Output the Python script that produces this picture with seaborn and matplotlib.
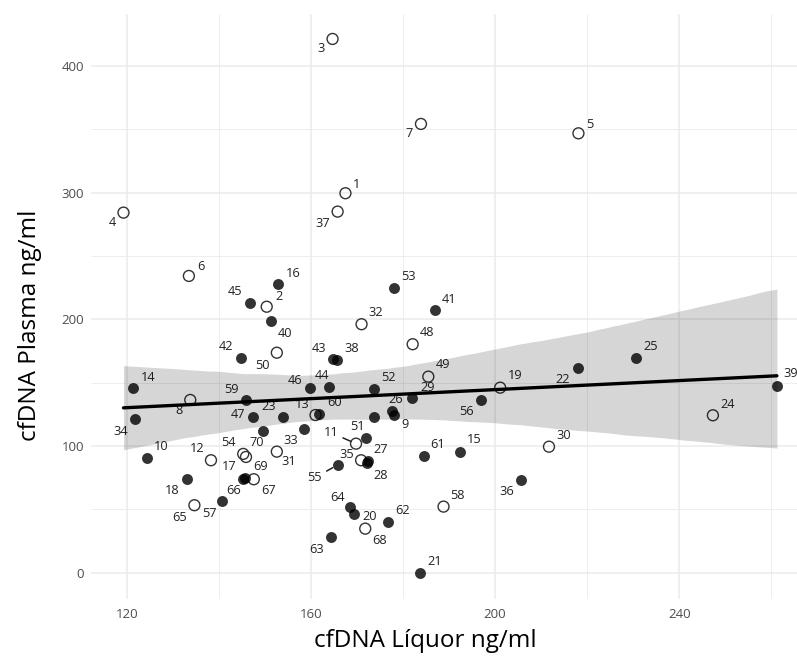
import matplotlib
matplotlib.use("Agg")
import matplotlib.pyplot as plt
import seaborn as sns
import pandas as pd
from matplotlib.collections import PolyCollection

# ---- data ----
ids = ["1", "2", "3", "4", "5", "6", "7", "8", "9", "10",
       "11", "12", "13", "14", "15", "16", "17", "18", "19", "20",
       "21", "22", "23", "24", "25", "26", "27", "28", "29", "30",
       "31", "32", "33", "34", "35", "36", "37", "38", "39", "40",
       "41", "42", "43", "44", "45", "46", "47", "48", "49", "50",
       "51", "52", "53", "54", "55", "56", "57", "58", "59", "60",
       "61", "62", "63", "64", "65", "66", "67", "68", "69", "70", ""]
liquor = [167.5, 150.4, 164.7, 119.3, 218.1, 133.5, 183.9, 133.8, 178.0, 124.4,
          169.8, 138.3, 161.0, 121.4, 192.3, 152.9, 145.9, 133.0, 201.1, 169.4,
          183.7, 217.9, 154.0, 247.3, 230.7, 177.7, 172.4, 172.1, 182.0, 211.7,
          152.6, 171.0, 158.5, 121.8, 170.9, 205.7, 165.8, 165.7, 261.2, 151.3,
          187.0, 144.8, 164.9, 163.9, 146.7, 159.9, 147.4, 182.1, 185.5, 152.6,
          171.9, 173.6, 178.0, 145.3, 165.8, 196.9, 140.6, 188.8, 145.9, 161.8,
          184.5, 176.8, 164.4, 168.5, 134.7, 145.3, 147.6, 171.8, 145.6, 149.7, 173.6]
plasma = [299.5, 209.9, 421.3, 284.2, 346.8, 234.2, 354.2, 136.3, 124.7, 90.5,
          101.8, 88.7, 124.4, 145.8, 95.5, 227.9, 91.3, 73.7, 146.0, 46.3,
          0.0, 161.8, 122.6, 124.2, 169.7, 127.6, 88.0, 86.3, 138.1, 99.4,
          95.5, 196.1, 113.2, 121.5, 88.7, 73.1, 285.0, 167.9, 147.6, 198.7,
          207.3, 169.4, 168.4, 146.8, 212.9, 145.5, 122.6, 180.3, 154.7, 173.6,
          106.1, 145.0, 224.5, 93.7, 85.0, 136.0, 56.6, 52.1, 136.0, 125.0,
          92.3, 39.7, 27.9, 52.1, 53.2, 73.9, 73.7, 34.7, 74.3, 112.1, 123.1]
group = ["open", "open", "open", "open", "open", "open", "open", "open", "filled", "filled",
         "open", "open", "open", "filled", "filled", "filled", "open", "filled", "open", "filled",
         "filled", "filled", "filled", "open", "filled", "filled", "filled", "filled", "filled", "open",
         "open", "open", "filled", "filled", "open", "filled", "open", "filled", "filled", "filled",
         "filled", "filled", "filled", "filled", "filled", "filled", "filled", "open", "open", "open",
         "filled", "filled", "filled", "open", "filled", "filled", "filled", "open", "filled", "filled",
         "filled", "filled", "filled", "filled", "open", "filled", "open", "open", "filled", "filled", "filled"]

# ---- label placement (pixel offsets: right, down) ----
label_offsets = {
    "1": (11, -9), "2": (12, -10), "3": (-11.5, 10), "4": (-11, 10), "5": (11.5, -9.3),
    "6": (12, -9.3), "7": (-12.3, 10), "8": (-11.6, 10.7), "9": (11.3, 9.6), "10": (14.3, -11.3),
    "11": (-25, -11), "12": (-14, -11.6), "13": (-13.3, -11), "14": (15.3, -10.7), "15": (14.6, -11.7),
    "16": (15, -10.7), "17": (-17, 9.7), "18": (-14, 11.4), "19": (14.7, -11.7), "20": (15.7, 2.7),
    "21": (14.3, -11), "22": (-14.4, 12.3), "23": (-14.3, -10.6), "24": (14.6, -11), "25": (14.3, -11),
    "26": (3.7, -11), "27": (12.7, -11.2), "28": (14, 12.7), "29": (15.7, -9.7), "30": (15, -11),
    "31": (12, 10), "32": (14.3, -11.6), "33": (-13, 11.4), "34": (-14.3, 12.7), "35": (-14.3, -5.3),
    "36": (-14.6, 11), "37": (-15, 11.6), "38": (14.7, -11), "39": (13.3, -12.4), "40": (14, 12.3),
    "41": (13.7, -11), "42": (-14.7, -12), "43": (-14.6, -11), "44": (-7, -10.7), "45": (-14.4, -11.3),
    "46": (-15.3, -8.3), "47": (-15, -3), "48": (14.3, -11.6), "49": (14.4, -11.7), "50": (-14.7, 12.3),
    "51": (-8.7, -11.6), "52": (14.6, -11.3), "53": (14.7, -11.6), "54": (-14.3, -11.3), "55": (-22.7, 12.7),
    "56": (-14, 11.6), "57": (-11.7, 12.3), "58": (14.4, -11), "59": (-14.3, -11), "60": (15, -11.3),
    "61": (13.6, -11.4), "62": (14.4, -11.6), "63": (-14.3, 12.7), "64": (-12.3, -9.4), "65": (-15, 12),
    "66": (-9.3, 11.7), "67": (14.3, 11.4), "68": (14.7, 12.3), "69": (16.4, -11.8), "70": (-6.4, 12),
}
segment_labels = {"11", "55"}

df = pd.DataFrame({"id": ids, "liquor": liquor, "plasma": plasma, "group": group})

sns.set_style("white")
plt.rcParams["font.family"] = ["Open Sans", "DejaVu Sans"]

fig = plt.figure(figsize=(7.97, 6.63), dpi=100)
ax = fig.add_axes([90.8 / 797, 1 - 599.2 / 663, (809.6 - 90.8) / 797, (599.2 - 14) / 663])

# points
sns.scatterplot(data=df[df.group == "open"], x="liquor", y="plasma", ax=ax,
                marker="o", s=62, facecolor="none", edgecolor="#333333",
                linewidth=1.0, zorder=2, legend=False)
sns.scatterplot(data=df[df.group == "filled"], x="liquor", y="plasma", ax=ax,
                marker="o", s=62, color="black", alpha=0.8, linewidth=0,
                zorder=2.1, legend=False)

# labels
for _, r in df.iterrows():
    if not r["id"]:
        continue
    dx, dy = label_offsets[r["id"]]
    kw = {}
    if r["id"] in segment_labels:
        kw["arrowprops"] = dict(arrowstyle="-", color="#222222", lw=1.1,
                                shrinkA=1, shrinkB=4)
    ax.annotate(r["id"], (r["liquor"], r["plasma"]), xytext=(dx, -dy),
                textcoords="offset pixels", ha="center", va="center",
                fontsize=9.2, color="#222222", zorder=3, **kw)

# regression line with confidence band
sns.regplot(data=df, x="liquor", y="plasma", ax=ax, scatter=False, ci=95,
            n_boot=2000, seed=3, color="black", line_kws=dict(lw=2.4, zorder=5))
for coll in ax.collections:
    if isinstance(coll, PolyCollection):
        coll.set_alpha(0.16)
        coll.set_zorder(4)
        coll.set_linewidth(0)

ax.set_xlim(112.2, 268.3)
ax.set_ylim(-21, 441)
ax.set_xticks([120, 160, 200, 240])
ax.set_xticks([140, 180, 220, 260], minor=True)
ax.set_yticks([0, 100, 200, 300, 400])
ax.set_yticks([50, 150, 250, 350], minor=True)
ax.grid(which="major", color="#EBEBEB", lw=1.1, zorder=0)
ax.grid(which="minor", color="#EBEBEB", lw=0.6, zorder=0)
ax.set_axisbelow(True)
for sp in ax.spines.values():
    sp.set_visible(False)
ax.tick_params(which="both", length=0, labelsize=9.5, labelcolor="#4D4D4D")
ax.tick_params(axis="x", pad=6)
ax.tick_params(axis="y", pad=5)

ax.set_xlabel("cfDNA Líquor ng/ml", fontsize=17.5, color="black", va="center")
ax.set_ylabel("cfDNA Plasma ng/ml", fontsize=17.5, color="black", va="center")
ax.xaxis.set_label_coords((425 - 90.8) / (809.6 - 90.8), -(641 - 599.2) / 585.2)
ax.yaxis.set_label_coords(-(90.8 - 30) / 718.8, (599.2 - 325) / 585.2)

fig.savefig("out.png", dpi=100)
